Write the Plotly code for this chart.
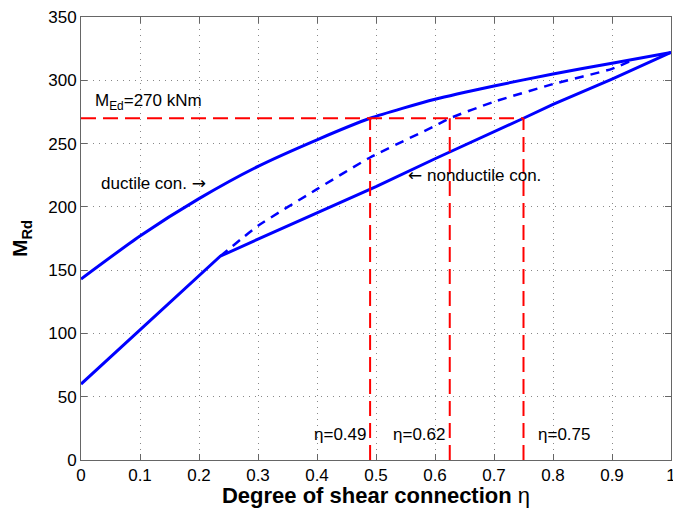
import plotly.graph_objects as go

# Ductile connection curve
duct_x = [0, 0.1, 0.2, 0.3, 0.4, 0.49, 0.6, 0.7, 0.8, 0.9, 1.0]
duct_y = [143, 177, 206.5, 232, 253, 270, 285, 295.5, 305, 313.5, 322]

# Nonductile connection curve
nond_x = [0, 0.236, 0.3, 0.4, 0.5, 0.6, 0.7, 0.75, 0.8, 0.9, 1.0]
nond_y = [60, 161, 174.5, 195, 216, 238, 259, 270, 281, 301, 322]

# Dashed interpolation curve
dash_x = [0.236, 0.3, 0.4, 0.49, 0.6, 0.625, 0.7, 0.8, 0.9, 0.93]
dash_y = [161, 185, 214, 239, 264, 270, 283, 297, 309, 315]

M_Ed = 270
eta_values = [0.49, 0.625, 0.75]
eta_labels = ["η=0.49", "η=0.62", "η=0.75"]

fig = go.Figure()
blue = "#0000ff"
red = "#ff0000"
FONT = "Liberation Sans, Arial, Helvetica, sans-serif"

fig.add_trace(go.Scatter(x=duct_x, y=duct_y, mode="lines", line=dict(color=blue, width=3, shape="spline", smoothing=0.6)))
fig.add_trace(go.Scatter(x=nond_x, y=nond_y, mode="lines", line=dict(color=blue, width=3)))
fig.add_trace(go.Scatter(x=dash_x, y=dash_y, mode="lines", line=dict(color=blue, width=2.5, dash="9px,7px", shape="spline", smoothing=0.5)))

# Red lines
fig.add_trace(go.Scatter(x=[0, max(eta_values)], y=[M_Ed, M_Ed], mode="lines", line=dict(color=red, width=2, dash="15px,7px")))
for e in eta_values:
    fig.add_trace(go.Scatter(x=[e, e], y=[0, M_Ed], mode="lines", line=dict(color=red, width=2, dash="15px,7px")))

font_txt = dict(family=FONT, size=17, color="black")
arrow_r = '<span style="font-family:DejaVu Sans">→</span>'
arrow_l = '<span style="font-family:DejaVu Sans">←</span>'
fig.add_annotation(x=0.021, y=283, text="M<sub>Ed</sub>=270 kNm", showarrow=False, xanchor="left", yanchor="middle", font=font_txt)
fig.add_annotation(x=0.03, y=219, text="ductile con. " + arrow_r, showarrow=False, xanchor="left", yanchor="middle", font=font_txt)
fig.add_annotation(x=0.551, y=225, text=arrow_l + " nonductile con.", showarrow=False, xanchor="left", yanchor="middle", font=font_txt)
fig.add_annotation(x=0.391, y=20, text=eta_labels[0], showarrow=False, xanchor="left", yanchor="middle", font=font_txt)
fig.add_annotation(x=0.526, y=20, text=eta_labels[1], showarrow=False, xanchor="left", yanchor="middle", font=font_txt)
fig.add_annotation(x=0.772, y=20, text=eta_labels[2], showarrow=False, xanchor="left", yanchor="middle", font=font_txt)

axis_common = dict(
    showgrid=True, gridcolor="#888888", griddash="1px,5px", gridwidth=1,
    showline=True, linecolor="#666666", linewidth=1, mirror="ticks",
    ticks="inside", ticklen=6, tickcolor="#666666",
    zeroline=False, ticklabeloverflow="allow", automargin=False,
    tickfont=dict(family=FONT, size=17, color="black"),
)

fig.update_layout(
    width=673, height=508,
    margin=dict(l=81, r=2, t=17, b=48),
    paper_bgcolor="white", plot_bgcolor="white",
    showlegend=False,
    xaxis=dict(range=[0, 1], tick0=0, dtick=0.1, tickformat="~g",
               title=dict(text="<b>Degree of shear connection</b> η", standoff=2,
                          font=dict(family=FONT, size=22, color="black")),
               **axis_common),
    yaxis=dict(range=[0, 350], tick0=0, dtick=50,
               title=dict(text="<b>M<sub>Rd</sub></b>", standoff=14,
                          font=dict(family=FONT, size=21, color="black")),
               **axis_common),
)

fig.write_html(
    "out.html",
    config={"displayModeBar": False},
    post_script="document.body.style.margin='0';document.body.style.overflow='hidden';",
)
